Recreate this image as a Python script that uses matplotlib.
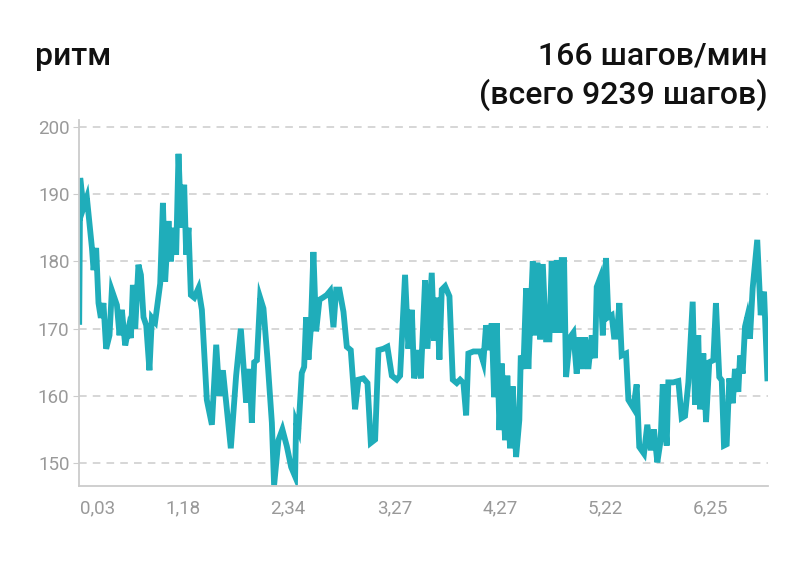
import matplotlib
matplotlib.use("Agg")
import matplotlib.pyplot as plt

# elapsed time (min) and cadence (steps/min)
minutes = [0, 0.08, 0.35, 0.62, 1.03, 1.16, 1.37, 1.56, 1.75, 1.96,
           2.18, 2.45, 2.64, 3.05, 3.26, 3.45, 3.72, 3.99, 4.18, 4.34,
           4.53, 4.79, 4.99, 5.20, 5.42, 5.68, 5.88, 6.14, 6.55, 6.77,
           6.95, 7.22, 7.41, 7.62, 7.84, 8.03, 8.25, 8.49, 8.65, 8.84,
           9.03, 9.30, 9.64, 9.92, 10.32, 10.73, 11.08, 11.34, 11.62, 11.94,
           12.26, 12.69, 13.07, 13.50, 13.77, 13.96, 14.15, 14.37, 14.63, 14.90,
           15.22, 15.58, 15.76, 16.11, 16.43, 16.79, 17.14, 17.46,
           17.54, 17.73, 18.00, 18.19, 18.35, 18.54, 18.73, 18.94, 19.16, 19.43,
           19.70, 20.02, 20.29, 20.56, 20.78, 21.04, 21.37, 21.64, 21.96, 22.31,
           22.58, 22.98, 23.31, 23.58, 23.93, 24.20, 24.60, 24.92, 25.28, 25.68,
           25.95, 26.35, 26.62, 26.90, 27.08, 27.43, 27.62, 27.97, 28.16, 28.51,
           28.70, 28.92, 29.13, 29.32, 29.59, 29.94, 30.21, 30.53, 30.80, 31.07,
           31.29, 31.47, 31.88, 32.42, 32.68, 32.90, 33.17, 33.36, 33.55, 33.77,
           33.98, 34.17, 34.44, 34.62, 34.84, 35.06, 35.33, 35.59, 35.71, 35.92,
           36.14, 36.32,
           36.68, 36.86, 37.05, 37.27, 37.49, 37.75, 38.02, 38.21, 38.40, 38.62,
           38.83, 39.02, 39.21, 39.37, 39.69, 39.96, 40.23, 40.44, 40.72, 40.91,
           41.17, 41.45, 41.71, 41.85, 42.12, 42.34, 42.60, 42.79, 43.06, 43.25,
           43.47, 43.68, 43.87, 44.22, 44.41, 44.81, 45.08, 45.29, 45.67, 45.94,
           46.22, 46.48, 46.75, 47.02, 47.19, 47.51, 47.64, 48.04, 48.45, 48.72,
           48.99, 49.26, 49.61, 49.80, 50.06, 50.20, 50.47, 50.69, 50.95, 51.28,
           51.49, 51.76, 51.96, 52.14, 52.36, 52.57, 52.85, 53.03, 53.30, 53.44,
           53.65, 53.84, 54.02, 54.24, 54.46, 54.83, 55.11, 55.38, 55.65]

cadence = [171, 192.4, 188, 189.5, 182, 178.7, 182, 173.8, 171.6, 173.8,
           167, 169, 175.7, 173.5, 169, 172.8, 167.5, 170, 168.6, 176.5,
           170, 179.5, 178, 171.7, 170.5, 163.8, 171.6, 171, 176.7, 188.7,
           177, 186, 180, 185, 181, 196, 185, 191.4, 181, 185,
           175, 174.6, 176, 172.8, 159.4, 155.7, 167.6, 160, 163.8, 158,
           152.2, 163, 170, 159, 164, 156, 165, 165.3, 174.6, 173,
           165.6, 156, 146.7, 153.4, 155, 152.5, 149.4, 148,
           156, 155, 163.4, 164.3, 171.7, 165.4, 170, 181.4, 169.6, 174.3,
           174.6, 175, 175.6, 170.2, 175.8, 175.8, 172.5, 167.3, 166.8, 158,
           162.4, 162.6, 161.9, 153, 153.5, 166.8, 167, 167.3, 163, 162.4,
           163, 178, 167, 172.8, 162.6, 166.8, 162.6, 177.2, 167, 178.3,
           168.2, 174.6, 165.4, 175.8, 176.3, 174.8, 162.4, 161.9, 162.4, 161.9,
           157.1, 166.3, 166.6, 166.6, 165, 170.5, 166.8, 170.8, 159.8, 170.8,
           154.9, 164.8, 153.4, 163, 152.2, 161.4, 150.9, 156.4, 166, 164,
           176, 164,
           180, 169, 179.8, 168.4, 179.6, 168.4, 168.4, 180, 169.4, 180.2,
           169.4, 180.2, 180.2, 162.8, 168.7, 169.4, 163.3, 168.7, 164, 168.7,
           164, 169, 165.6, 176.2, 177.5, 169, 180.5, 171.7, 172, 168.8,
           168.8, 173.8, 166, 166.3, 159.4, 158.2, 161.7, 152.4, 151.4, 155.7,
           151.9, 155, 150.1, 153.4, 161.7, 152.6, 162, 162, 162.2, 156.7,
           157, 162, 174, 158.7, 169, 158, 166.3, 156.1, 165, 165.3,
           173.8, 162.8, 162.3, 152.6, 152.8, 162.6, 158.9, 164, 160.6, 166,
           163.3, 170.3, 171.7, 168.5, 176, 183.2, 172, 175.5, 162.6]

# x tick positions (min) and the distance (km) shown there
tick_min = [1.46, 8.41, 16.90, 25.55, 34.03, 42.52, 51.01]
tick_km = ["0,03", "1,18", "2,34", "3,27", "4,27", "5,22", "6,25"]
yticks = [150, 160, 170, 180, 190, 200]

plt.rcParams['font.family'] = ['Roboto', 'DejaVu Sans']

fig = plt.figure(figsize=(8, 5.67), dpi=100)
ax = fig.add_axes([0.099, 0.143, 0.861, 0.645])

ax.plot(minutes, cadence, color='#1fadba', lw=4.2, solid_joinstyle='miter')

ax.set_xlim(0, 55.7)
ax.set_ylim(146.6, 201)
ax.set_yticks(yticks)
ax.set_xticks(tick_min)
ax.set_xticklabels(tick_km)
ax.tick_params(axis='y', length=4, color='#cccccc', labelsize=13.5, labelcolor='#999999', pad=3)
ax.tick_params(axis='x', length=0, labelsize=13.5, labelcolor='#999999', pad=10)
ax.grid(axis='y', color='#cccccc', ls=(0, (5, 4)), lw=1.1)
ax.set_axisbelow(True)
for s in ['top', 'right']:
    ax.spines[s].set_visible(False)
for s in ['left', 'bottom']:
    ax.spines[s].set_color('#cccccc')
    ax.spines[s].set_linewidth(1.3)

fig.text(0.044, 0.9, "ритм", fontsize=23, fontweight='medium', color='#111111', va='center')
fig.text(0.96, 0.902, "166 шагов/мин", fontsize=23, fontweight='medium', color='#111111',
         va='center', ha='right')
fig.text(0.96, 0.832, "(всего 9239 шагов)", fontsize=23, fontweight='medium', color='#111111',
         va='center', ha='right')

fig.savefig("out.png", dpi=100)
